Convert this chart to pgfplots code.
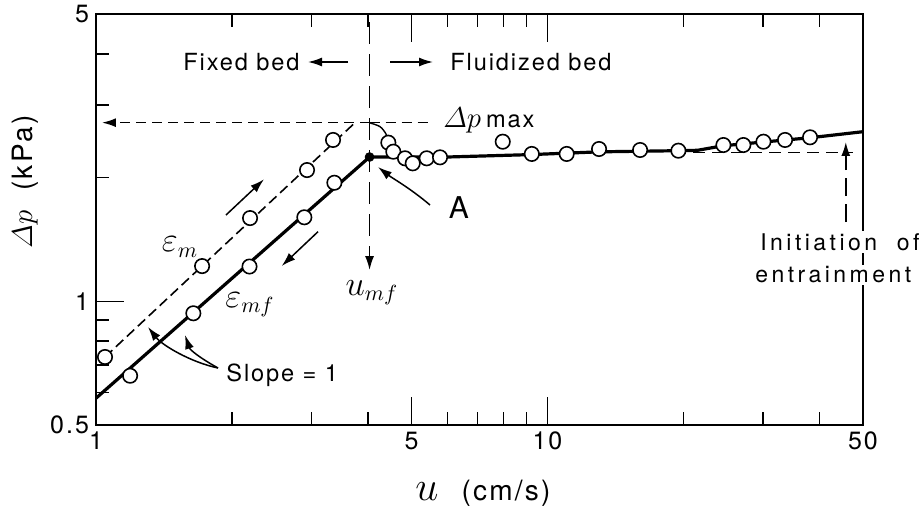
\documentclass[border=0pt]{standalone}
\usepackage{amsmath}
\usepackage{fontspec}
\setmainfont{TeX Gyre Heros}[LetterSpace=8]
\newfontfamily\widefont{TeX Gyre Heros}[LetterSpace=15]
\usepackage{pgfplots}
\pgfplotsset{compat=1.18}
\usetikzlibrary{arrows.meta}
\newcommand\annot{\fontsize{11.8}{13}\selectfont}
\tikzset{arr/.style={line width=0.75pt,-{Latex[length=7pt,width=4.5pt]}}}
\begin{document}
\begin{tikzpicture}
\useasboundingbox (-48pt,-42.5pt) rectangle (413pt,212.5pt);
\begin{loglogaxis}[
  at={(0,0)}, anchor=south west,
  scale only axis, width=383.5pt, height=205.5pt,
  xmin=1, xmax=50, ymin=0.5, ymax=5,
  axis line style={line width=1.1pt},
  xtick={1,5,10,50}, xticklabels={1,5,10,50},
  minor xtick={2,3,4,6,7,8,9,20,30,40},
  ytick={0.5,1,5}, yticklabels={0.5,1,5},
  minor ytick={0.6,0.7,0.8,0.9,2,3,4},
  tick align=inside,
  xtick pos=both, ytick pos=left,
  xticklabel pos=lower,
  major tick length=14pt, minor tick length=6.5pt,
  every tick/.style={black, line width=0.7pt},
  tick label style={font=\fontsize{12.5}{14}\selectfont},
  /pgf/number format/assume math mode=true,
]
% epsilon_m (rising, dashed)
\addplot[black, line width=0.8pt, dash pattern=on 5pt off 2.5pt] coordinates {(1.047,0.732) (3.748,2.720)};
% epsilon_mf (solid)
\addplot[black, line width=1.6pt] coordinates {(1,0.581) (4.036,2.244)};
% fluidized bed line
\addplot[black, line width=1.6pt] coordinates {(4.036,2.244) (6,2.244) (9.23,2.275) (13,2.31) (19.5,2.325) (21.5,2.33) (24.5,2.39) (30,2.44) (38.2,2.50) (50,2.586)};
% overshoot curve near peak
\addplot[black, line width=0.7pt, smooth] coordinates {(4.036,2.718) (4.257,2.660) (4.40,2.54) (4.556,2.312) (4.836,2.228) (5.030,2.166) (5.402,2.228) (5.782,2.240)};
% dp_max dashed guide
\addplot[black, line width=0.8pt, dash pattern=on 5pt off 3pt, -{Latex[length=7pt,width=4.5pt]}] coordinates {(4.036,2.720) (1.031,2.720)};
\addplot[black, line width=0.8pt, dash pattern=on 5pt off 3pt] coordinates {(4.036,2.720) (5.58,2.720)};
% u_mf vertical dashed
\addplot[black, line width=0.8pt, dash pattern=on 11pt off 5pt, -{Latex[length=7pt,width=4.5pt]}] coordinates {(4.036,4.78) (4.036,1.191)};
% entrainment guides
\addplot[black, line width=0.8pt, dash pattern=on 6pt off 3.5pt] coordinates {(21.02,2.301) (47.5,2.301)};
\addplot[black, line width=0.8pt, dash pattern=on 9pt off 4pt, -{Latex[length=7pt,width=4.5pt]}] coordinates {(45.8,1.559) (45.8,2.441)};
% data circles
\addplot[only marks, mark=*, mark size=3.6pt, mark options={fill=white, draw=black, line width=0.8pt}] coordinates {
(1.047,0.732) (1.718,1.218) (2.194,1.594) (2.934,2.086) (3.350,2.469)
(1.190,0.659) (1.643,0.935) (2.188,1.215) (2.894,1.601) (3.373,1.943)
(4.442,2.432) (4.556,2.312) (4.836,2.228) (5.030,2.166) (5.402,2.228) (5.782,2.240)
(7.962,2.445) (9.232,2.283) (11.03,2.283) (13.01,2.347) (16.04,2.334) (19.50,2.325)
(24.53,2.400) (27.16,2.400) (30.09,2.445) (33.60,2.469) (38.17,2.506)};
% point A
\addplot[only marks, mark=*, mark size=2.2pt, black] coordinates {(4.036,2.244)};
\end{loglogaxis}
\begin{scope}[x=0.5pt, y=-0.5pt, shift={(-48pt,212.5pt)}]
\node[anchor=east, font=\annot, inner sep=0pt] at (300,62) {Fixed bed};
\draw[arr] (348,62) -- (308,62);
\draw[arr] (390,62) -- (433,62);
\node[anchor=west, font=\annot, inner sep=0pt] at (450,62) {Fluidized bed};
\node[anchor=base west, inner sep=0pt] at (443,127) {\fontsize{15}{16}\selectfont$\varDelta p$\,{\annot max}};
\node[font=\fontsize{16}{18}\selectfont] at (180,247) {$\varepsilon_m$};
\node[font=\fontsize{16}{18}\selectfont] at (250,305) {$\varepsilon_{mf}$};
\node[font=\fontsize{16}{18}\selectfont] at (372,293) {$u_{mf}$};
\node[font=\fontsize{15}{18}\selectfont] at (459,208) {A};
\draw[arr] (430,205) .. controls (410,188) and (392,178) .. (378,167);
\draw[arr] (218,368) .. controls (190,362) and (162,345) .. (148,327);
\draw[arr] (218,368) .. controls (200,358) and (190,350) .. (185,335);
\node[anchor=west, font=\annot, inner sep=0pt] at (226,375) {Slope = 1};
\draw[arr] (226,215) -- (264,179.3);
\draw[arr] (318,231.7) -- (281.7,266);
\node[anchor=west, fill=white, inner sep=1pt, font=\fontsize{11.5}{13}\widefont] at (758,242) {Initiation\ \ of};
\node[anchor=west, fill=white, inner sep=1pt, font=\fontsize{11.5}{13}\widefont] at (753,275) {entrainment};
\node[rotate=90, font=\fontsize{14}{16}\selectfont] at (25,182) {$\varDelta p$\ \ (kPa)};
\node[anchor=base, font=\fontsize{20}{22}\selectfont] at (427,500) {$u$};
\node[anchor=base, font=\fontsize{14}{16}\selectfont] at (506,500) {(cm/s)};
\end{scope}
\end{tikzpicture}
\end{document}
